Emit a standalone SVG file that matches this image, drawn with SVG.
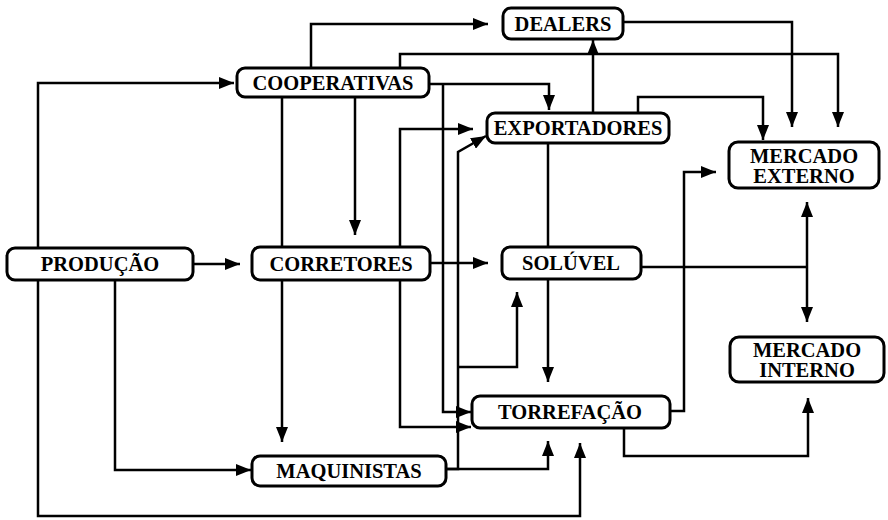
<svg xmlns="http://www.w3.org/2000/svg" width="888" height="520" viewBox="0 0 888 520">
<defs>
<marker id="ah" markerUnits="userSpaceOnUse" markerWidth="16" markerHeight="12" refX="15" refY="6" orient="auto">
<path d="M0,0 L15,6 L0,12 z" fill="#000"/>
</marker>
<style>
.box{fill:#fff;stroke:#000;stroke-width:3}
.t{font-family:"Liberation Serif","DejaVu Serif",serif;font-weight:bold;font-size:20.5px;fill:#000;text-anchor:middle}
.c{fill:none;stroke:#000;stroke-width:2.5}
.a{marker-end:url(#ah)}
</style>
</defs>
<rect width="888" height="520" fill="#fff"/>
<g id="connectors">
<path class="c a" d="M38,248 V83 H234"/>
<path class="c a" d="M193,264 H240"/>
<path class="c a" d="M115,280 V470 H251"/>
<path class="c a" d="M38,280 V516 H580 V443"/>
<path class="c a" d="M311,68 V24 H488"/>
<path class="c a" d="M400,68 V54 H838 V127"/>
<path class="c a" d="M623,22 H792 V127"/>
<path class="c a" d="M593,113 V40"/>
<path class="c a" d="M638,113 V97 H763 V140"/>
<path class="c a" d="M429,84 H549 V110"/>
<path class="c a" d="M443,84 V412 H471"/>
<path class="c a" d="M355,97 V235"/>
<path class="c" d="M282,97 V247"/>
<path class="c a" d="M282,280 V442"/>
<path class="c a" d="M430,263 H488"/>
<path class="c a" d="M400,247 V129 H473"/>
<path class="c a" d="M400,280 V427 H471"/>
<path class="c a" d="M446,469 H458 V152 L486,136"/>
<path class="c a" d="M458,367 H517 V292"/>
<path class="c a" d="M446,469 H548 V441"/>
<path class="c" d="M548,143 V247"/>
<path class="c a" d="M548,279 V382"/>
<path class="c" d="M641,267 H807"/>
<path class="c a" d="M807,267 V202"/>
<path class="c a" d="M807,267 V322"/>
<path class="c a" d="M670,411 H684 V172 H716"/>
<path class="c a" d="M624,428 V456 H808 V398"/>
</g>
<g id="dealers"><rect class="box" x="503" y="8" width="120" height="31" rx="8"/><text class="t" x="563" y="31">DEALERS</text></g>
<g id="cooperativas"><rect class="box" x="237" y="68" width="192" height="29" rx="8"/><text class="t" x="333" y="90">COOPERATIVAS</text></g>
<g id="exportadores"><rect class="box" x="487" y="113" width="182" height="30" rx="8"/><text class="t" x="578" y="135">EXPORTADORES</text></g>
<g id="mercado-externo"><rect class="box" x="729" y="142" width="150" height="46" rx="9"/><text class="t" x="804" y="163">MERCADO</text><text class="t" x="804" y="183">EXTERNO</text></g>
<g id="producao"><rect class="box" x="7" y="248" width="186" height="32" rx="8"/><text class="t" x="100" y="271">PRODUÇÃO</text></g>
<g id="corretores"><rect class="box" x="252" y="247" width="178" height="33" rx="8"/><text class="t" x="341" y="271">CORRETORES</text></g>
<g id="soluvel"><rect class="box" x="502" y="247" width="139" height="32" rx="8"/><text class="t" x="571" y="270">SOLÚVEL</text></g>
<g id="mercado-interno"><rect class="box" x="730" y="337" width="154" height="45" rx="9"/><text class="t" x="807" y="357">MERCADO</text><text class="t" x="807" y="377">INTERNO</text></g>
<g id="torrefacao"><rect class="box" x="472" y="396" width="198" height="32" rx="8"/><text class="t" x="570" y="419">TORREFAÇÃO</text></g>
<g id="maquinistas"><rect class="box" x="252" y="456" width="194" height="30" rx="8"/><text class="t" x="349" y="478">MAQUINISTAS</text></g>
</svg>
